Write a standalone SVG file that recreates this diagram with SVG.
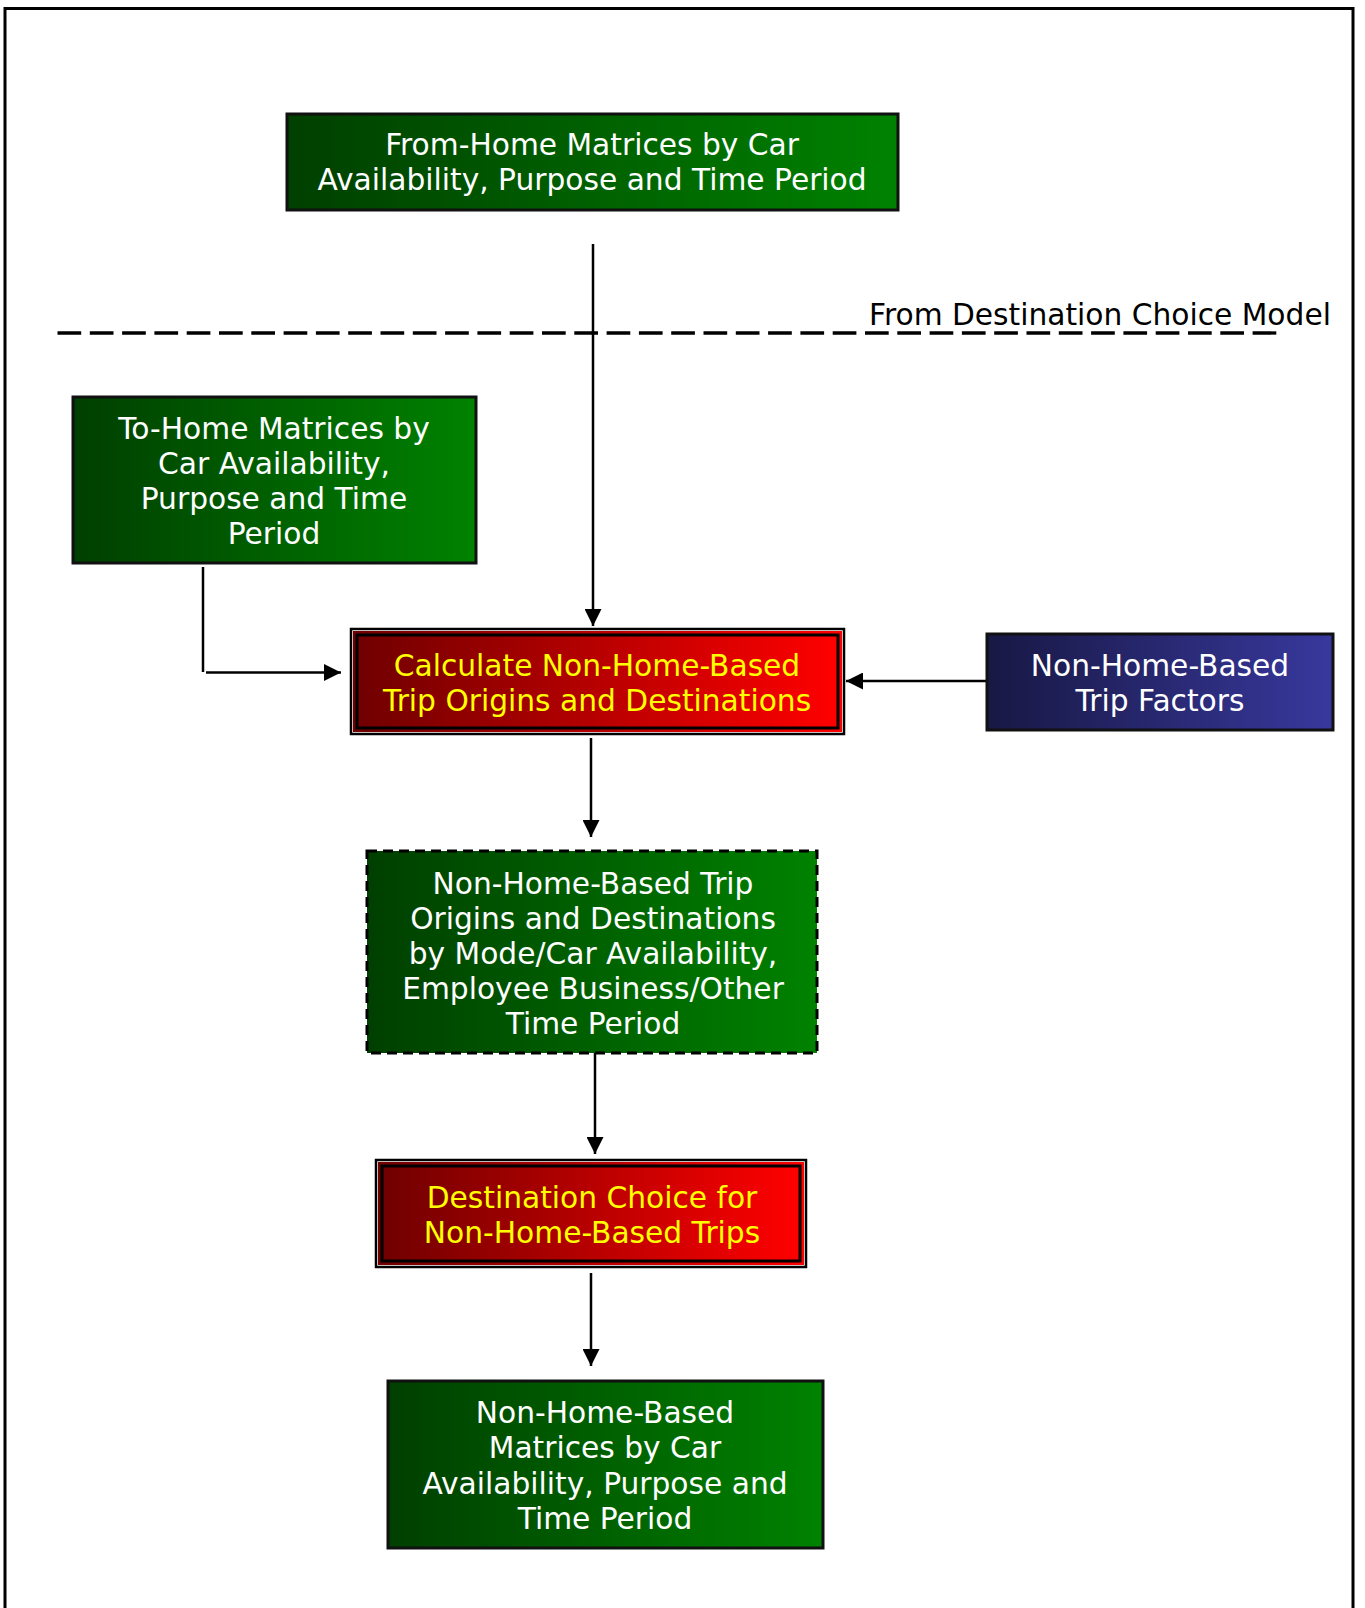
<svg xmlns="http://www.w3.org/2000/svg" width="1365" height="1608" viewBox="0 0 1365 1608">
<style>
  text { font-family: "DejaVu Sans", Verdana, sans-serif; font-size: 29.7px; text-anchor: middle; }
  .w { fill: #ffffff; }
  .y { fill: #ffff00; }
  .k { fill: #000000; text-anchor: start; }
  .box { stroke: #111111; stroke-width: 3; }
  .conn { stroke: #000000; stroke-width: 2.5; fill: none; }
</style>
<defs>
  <linearGradient id="gGreen" x1="0" y1="0" x2="1" y2="0">
    <stop offset="0" stop-color="#003f00"/>
    <stop offset="1" stop-color="#008200"/>
  </linearGradient>
  <linearGradient id="gRed" x1="0" y1="0" x2="1" y2="0">
    <stop offset="0" stop-color="#700000"/>
    <stop offset="1" stop-color="#ff0000"/>
  </linearGradient>
  <linearGradient id="gBlue" x1="0" y1="0" x2="1" y2="0">
    <stop offset="0" stop-color="#181844"/>
    <stop offset="1" stop-color="#38389e"/>
  </linearGradient>
  <marker id="arr" markerUnits="userSpaceOnUse" markerWidth="17" markerHeight="17" viewBox="0 0 17 17" refX="17" refY="8.5" orient="auto">
    <path d="M0,0 L17,8.5 L0,17 Z" fill="#000"/>
  </marker>
</defs>
<rect width="1365" height="1608" fill="#ffffff"/>
<rect x="5" y="8.5" width="1348" height="1610" fill="none" stroke="#000" stroke-width="3"/>

<g id="connectors">
  <line class="conn" x1="593" y1="244" x2="593" y2="626" marker-end="url(#arr)"/>
  <line class="conn" x1="203" y1="567" x2="203" y2="672"/>
  <line class="conn" x1="206" y1="672.5" x2="341" y2="672.5" marker-end="url(#arr)"/>
  <line class="conn" x1="987" y1="681" x2="846" y2="681" marker-end="url(#arr)"/>
  <line class="conn" x1="591" y1="738" x2="591" y2="837" marker-end="url(#arr)"/>
  <line class="conn" x1="595" y1="1048" x2="595" y2="1154" marker-end="url(#arr)"/>
  <line class="conn" x1="591" y1="1273" x2="591" y2="1366" marker-end="url(#arr)"/>
</g>

<g id="boundary">
  <line x1="57.5" y1="333" x2="1277" y2="333" stroke="#000" stroke-width="3.3" stroke-dasharray="23.7,8.6"/>
  <text class="k" x="869" y="325">From Destination Choice Model</text>
</g>

<g id="from-home">
  <rect class="box" x="287" y="114" width="611" height="96" fill="url(#gGreen)"/>
  <text class="w" x="592" y="155">From-Home Matrices by Car</text>
  <text class="w" x="592" y="190">Availability, Purpose and Time Period</text>
</g>

<g id="to-home">
  <rect class="box" x="73" y="397" width="403" height="166" fill="url(#gGreen)"/>
  <text class="w" x="274" y="439">To-Home Matrices by</text>
  <text class="w" x="274" y="474">Car Availability,</text>
  <text class="w" x="274" y="509">Purpose and Time</text>
  <text class="w" x="274" y="544">Period</text>
</g>

<g id="calculate">
  <rect x="351" y="629" width="493" height="105" fill="#fff" stroke="#000" stroke-width="2.5"/>
  <rect x="353" y="631" width="489" height="101" fill="url(#gRed)"/>
  <rect x="357" y="635" width="481" height="93" fill="url(#gRed)" stroke="#000" stroke-width="3"/>
  <text class="y" x="597" y="676">Calculate Non-Home-Based</text>
  <text class="y" x="597" y="711">Trip Origins and Destinations</text>
</g>

<g id="trip-factors">
  <rect class="box" x="987" y="634" width="346" height="96" fill="url(#gBlue)"/>
  <text class="w" x="1160" y="676">Non-Home-Based</text>
  <text class="w" x="1160" y="711">Trip Factors</text>
</g>

<g id="nhb-od">
  <rect x="367" y="851" width="450" height="202" fill="url(#gGreen)" stroke="#000" stroke-width="3" stroke-dasharray="10,6"/>
  <text class="w" x="593" y="894">Non-Home-Based Trip</text>
  <text class="w" x="593" y="929">Origins and Destinations</text>
  <text class="w" x="593" y="964">by Mode/Car Availability,</text>
  <text class="w" x="593" y="999">Employee Business/Other</text>
  <text class="w" x="593" y="1034">Time Period</text>
</g>

<g id="dest-choice">
  <rect x="376" y="1160" width="430" height="107" fill="#fff" stroke="#000" stroke-width="2.5"/>
  <rect x="378" y="1162" width="426" height="103" fill="url(#gRed)"/>
  <rect x="382" y="1166" width="418" height="95" fill="url(#gRed)" stroke="#000" stroke-width="3"/>
  <text class="y" x="592" y="1208">Destination Choice for</text>
  <text class="y" x="592" y="1243">Non-Home-Based Trips</text>
</g>

<g id="nhb-matrices">
  <rect class="box" x="388" y="1381" width="435" height="167" fill="url(#gGreen)"/>
  <text class="w" x="605" y="1423">Non-Home-Based</text>
  <text class="w" x="605" y="1458">Matrices by Car</text>
  <text class="w" x="605" y="1494">Availability, Purpose and</text>
  <text class="w" x="605" y="1529">Time Period</text>
</g>
</svg>
